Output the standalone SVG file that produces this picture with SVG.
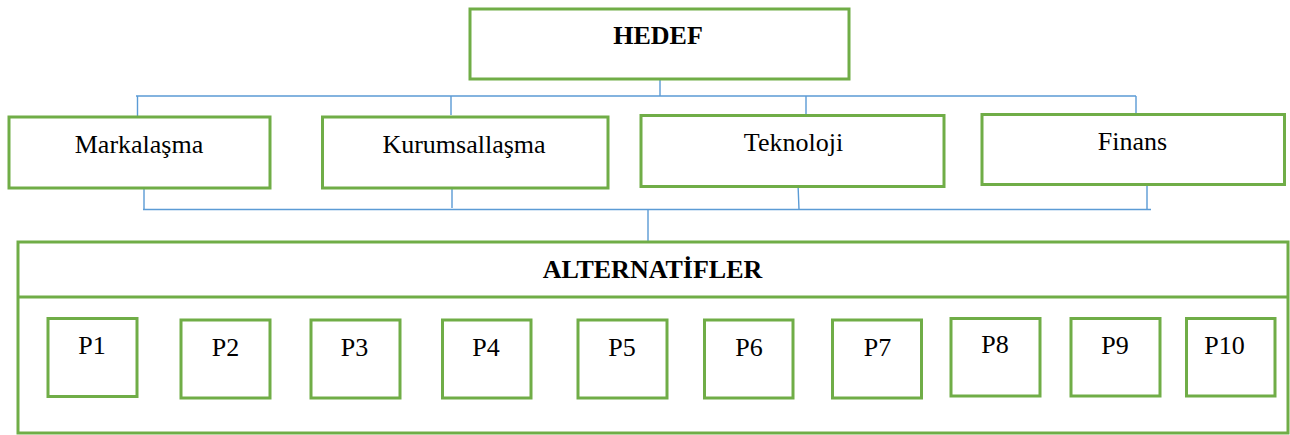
<svg xmlns="http://www.w3.org/2000/svg" width="1290" height="435" viewBox="0 0 1290 435">
<style>
.box{fill:#fff;stroke:#70AD47;stroke-width:3}
.t{font-size:26px;fill:#000;text-anchor:middle}
.b{font-weight:bold}
.c{stroke:#5B9BD5;stroke-width:1.4;fill:none}
</style>
<rect width="1290" height="435" fill="#fff"/>
<g id="connectors">
<path class="c" d="M660 79V96M136 96H1136M137.5 96V117M451 96V115M806 96V115M1136 96V117"/>
<path class="c" d="M144 188V209.5M452 188V208M798 184L799 209.5M1147 184V209.5M143 209.5H1151M648 209.5V241"/>
</g>
<g font-family="Liberation Serif, Times New Roman, serif">
<g id="hedef"><rect class="box" x="470" y="9" width="379" height="70"/><text class="t b" x="658" y="44">HEDEF</text></g>
<g id="markalasma"><rect class="box" x="9" y="117" width="261" height="71"/><text class="t" x="139" y="153">Markalaşma</text></g>
<g id="kurumsallasma"><rect class="box" x="322.5" y="117" width="285.5" height="71"/><text class="t" x="464" y="153">Kurumsallaşma</text></g>
<g id="teknoloji"><rect class="box" x="641" y="115.5" width="303" height="71"/><text class="t" x="793.5" y="151">Teknoloji</text></g>
<g id="finans"><rect class="box" x="982" y="114.5" width="302.5" height="70"/><text class="t" x="1132.5" y="150">Finans</text></g>
<g id="alternatifler"><rect class="box" x="18" y="242" width="1270" height="191"/><line x1="18" y1="297" x2="1288" y2="297" stroke="#70AD47" stroke-width="3"/><text class="t b" x="652.5" y="278">ALTERNATİFLER</text></g>
<g id="p1"><rect class="box" x="48" y="318.5" width="89" height="78"/><text class="t" x="92" y="354">P1</text></g>
<g id="p2"><rect class="box" x="181" y="320" width="89" height="78"/><text class="t" x="225.5" y="356">P2</text></g>
<g id="p3"><rect class="box" x="311" y="320" width="89" height="78"/><text class="t" x="354.5" y="356">P3</text></g>
<g id="p4"><rect class="box" x="442.5" y="320" width="88.5" height="78"/><text class="t" x="486" y="356">P4</text></g>
<g id="p5"><rect class="box" x="578" y="320" width="89" height="78"/><text class="t" x="622" y="356">P5</text></g>
<g id="p6"><rect class="box" x="704.5" y="320" width="88.5" height="78"/><text class="t" x="749" y="356">P6</text></g>
<g id="p7"><rect class="box" x="832.5" y="320" width="89" height="78"/><text class="t" x="877.5" y="356">P7</text></g>
<g id="p8"><rect class="box" x="951" y="318.5" width="89" height="77.5"/><text class="t" x="995" y="353">P8</text></g>
<g id="p9"><rect class="box" x="1071" y="318.5" width="89" height="77.5"/><text class="t" x="1115" y="354">P9</text></g>
<g id="p10"><rect class="box" x="1186.5" y="318.5" width="88.5" height="77.5"/><text class="t" x="1224.5" y="354">P10</text></g>
</g>
</svg>
